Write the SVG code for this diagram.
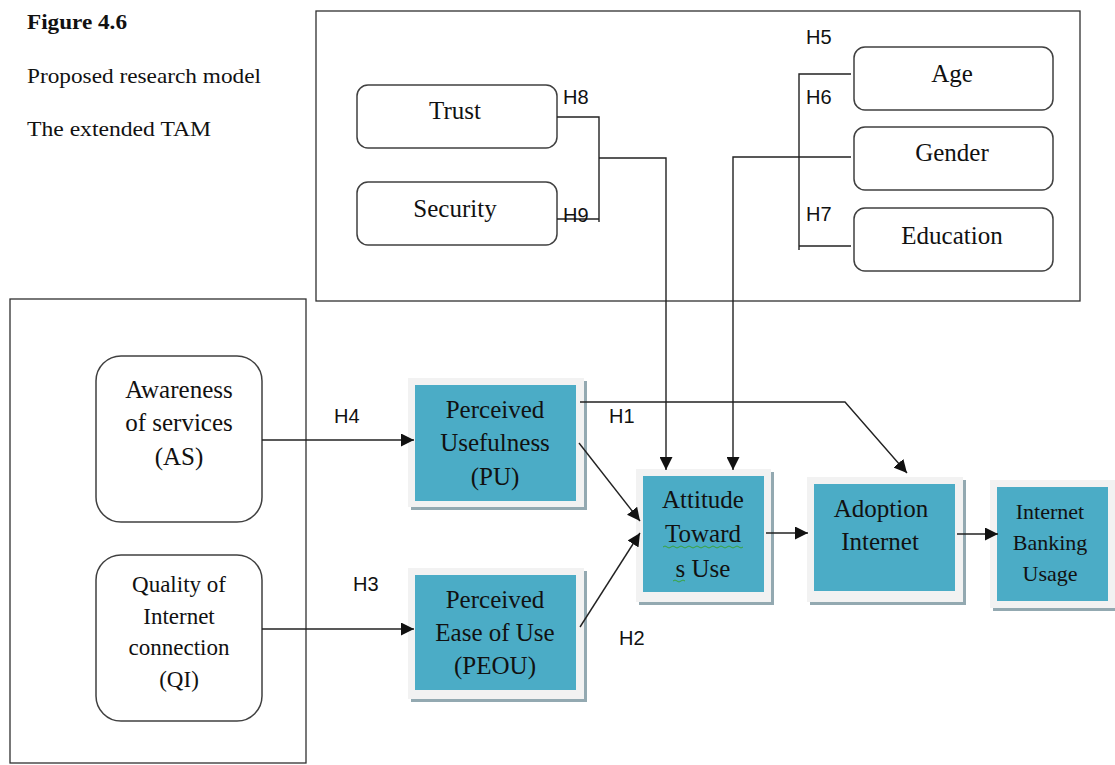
<svg xmlns="http://www.w3.org/2000/svg" width="1115" height="765" viewBox="0 0 1115 765">
<defs>
<style>
.frame{fill:none;stroke:#303030;stroke-width:1.3}
.rnd{fill:#fff;stroke:#404040;stroke-width:1.5}
.outer{fill:#f2f2f2}
.shadow{fill:#93a9b1}
.teal{fill:#4bacc6}
.t{font-family:"Liberation Serif","Times New Roman",serif;font-size:25px;fill:#111;text-anchor:middle}
.ts{font-family:"Liberation Serif","Times New Roman",serif;font-size:23px;fill:#111;text-anchor:middle}
.tb{font-family:"Liberation Serif","Times New Roman",serif;font-size:22px;fill:#111;text-anchor:middle}
.cap{font-family:"Liberation Serif","Times New Roman",serif;font-size:22px;fill:#111}
.h{font-family:"Liberation Sans",Arial,sans-serif;font-size:20px;fill:#111}
.ln{fill:none;stroke:#222;stroke-width:1.4}
.sq{fill:none;stroke:#3aa33a;stroke-width:1}
</style>
<marker id="ah" viewBox="0 0 12 12" refX="12" refY="6" markerWidth="13" markerHeight="13" markerUnits="userSpaceOnUse" orient="auto">
<path d="M0,0 L12,6 L0,12 Z" fill="#111"/>
</marker>
</defs>
<rect width="1115" height="765" fill="#fff"/>

<g id="caption">
<text class="cap" x="27" y="29" font-weight="bold" textLength="100" lengthAdjust="spacingAndGlyphs">Figure 4.6</text>
<text class="cap" x="27" y="83" textLength="234" lengthAdjust="spacingAndGlyphs">Proposed research  model</text>
<text class="cap" x="27" y="136" textLength="184" lengthAdjust="spacingAndGlyphs">The  extended TAM</text>
</g>

<g id="frames">
<rect class="frame" x="316" y="11" width="764" height="290"/>
<rect class="frame" x="10" y="299" width="296" height="464"/>
</g>

<g id="trust">
<rect class="rnd" x="357" y="85" width="200" height="63" rx="11"/>
<text class="t" x="455" y="119">Trust</text>
</g>
<g id="security">
<rect class="rnd" x="357" y="182" width="200" height="63" rx="11"/>
<text class="t" x="455" y="217">Security</text>
</g>
<g id="age">
<rect class="rnd" x="854" y="47" width="199" height="63" rx="11"/>
<text class="t" x="952" y="82">Age</text>
</g>
<g id="gender">
<rect class="rnd" x="854" y="127" width="199" height="63" rx="11"/>
<text class="t" x="952" y="161">Gender</text>
</g>
<g id="education">
<rect class="rnd" x="854" y="208" width="199" height="63" rx="11"/>
<text class="t" x="952" y="244">Education</text>
</g>

<g id="as">
<rect class="rnd" x="96" y="356" width="166" height="166" rx="25"/>
<text class="t" x="179" y="398">Awareness</text>
<text class="t" x="179" y="431">of services</text>
<text class="t" x="179" y="465">(AS)</text>
</g>
<g id="qi">
<rect class="rnd" x="96" y="555" width="166" height="166" rx="25"/>
<text class="ts" x="179" y="592">Quality of</text>
<text class="ts" x="179" y="624">Internet</text>
<text class="ts" x="179" y="655">connection</text>
<text class="ts" x="179" y="687">(QI)</text>
</g>

<g id="pu">
<rect class="shadow" x="411" y="381" width="176" height="129"/>
<rect class="outer" x="408" y="378" width="176" height="129"/>
<rect class="teal" x="415" y="385" width="161" height="116"/>
<text class="t" x="495" y="418">Perceived</text>
<text class="t" x="495" y="451">Usefulness</text>
<text class="t" x="495" y="485">(PU)</text>
</g>
<g id="peou">
<rect class="shadow" x="411" y="571" width="176" height="131"/>
<rect class="outer" x="408" y="568" width="176" height="131"/>
<rect class="teal" x="415" y="575" width="161" height="115"/>
<text class="t" x="495" y="608">Perceived</text>
<text class="t" x="495" y="641">Ease of Use</text>
<text class="t" x="495" y="674">(PEOU)</text>
</g>
<g id="attitude">
<rect class="shadow" x="639" y="472" width="135" height="133"/>
<rect class="outer" x="636" y="469" width="135" height="133"/>
<rect class="teal" x="643" y="476" width="121" height="116"/>
<text class="t" x="703" y="508">Attitude</text>
<text class="t" x="703" y="542">Toward</text>
<text class="t" x="703" y="577">s Use</text>
<path class="sq" d="M663,547 q2,-2 4,0 t4,0 t4,0 t4,0 t4,0 t4,0 t4,0 t4,0 t4,0 t4,0 t4,0 t4,0 t4,0 t4,0 t4,0 t4,0 t4,0 t4,0 t4,0 t4,0"/>
<path class="sq" d="M673,581 q2,-2 4,0 t4,0 t4,0"/>
</g>
<g id="adoption">
<rect class="shadow" x="810" y="480" width="156" height="125"/>
<rect class="outer" x="807" y="477" width="156" height="125"/>
<rect class="teal" x="814" y="484" width="141" height="107"/>
<text class="t" x="881" y="517">Adoption</text>
<text class="t" x="880" y="550">Internet</text>
</g>
<g id="usage">
<rect class="shadow" x="993" y="483" width="125" height="128"/>
<rect class="outer" x="990" y="480" width="125" height="128"/>
<rect class="teal" x="997" y="487" width="111" height="114"/>
<text class="tb" x="1050" y="519">Internet</text>
<text class="tb" x="1050" y="550">Banking</text>
<text class="tb" x="1050" y="581">Usage</text>
</g>

<g id="connectors">
<polyline class="ln" points="557,117 599,117 599,222"/>
<line class="ln" x1="557" y1="219" x2="599" y2="219"/>
<polyline class="ln" points="599,158 666,158 666,470" marker-end="url(#ah)"/>
<polyline class="ln" points="851,74 799,74 799,250"/>
<line class="ln" x1="799" y1="246" x2="851" y2="246"/>
<polyline class="ln" points="851,157 733,157 733,470" marker-end="url(#ah)"/>
<line class="ln" x1="262" y1="440" x2="414" y2="440" marker-end="url(#ah)"/>
<line class="ln" x1="262" y1="629" x2="414" y2="629" marker-end="url(#ah)"/>
<line class="ln" x1="579" y1="443" x2="640" y2="521" marker-end="url(#ah)"/>
<line class="ln" x1="580" y1="627" x2="640" y2="533" marker-end="url(#ah)"/>
<polyline class="ln" points="580,402 845,402 907,473" marker-end="url(#ah)"/>
<line class="ln" x1="766" y1="533" x2="808" y2="533" marker-end="url(#ah)"/>
<line class="ln" x1="957" y1="534" x2="998" y2="534" marker-end="url(#ah)"/>
</g>

<g id="labels">
<text class="h" x="563" y="104">H8</text>
<text class="h" x="563" y="222">H9</text>
<text class="h" x="806" y="44">H5</text>
<text class="h" x="806" y="104">H6</text>
<text class="h" x="806" y="221">H7</text>
<text class="h" x="334" y="423">H4</text>
<text class="h" x="353" y="591">H3</text>
<text class="h" x="609" y="423">H1</text>
<text class="h" x="619" y="645">H2</text>
</g>
</svg>
